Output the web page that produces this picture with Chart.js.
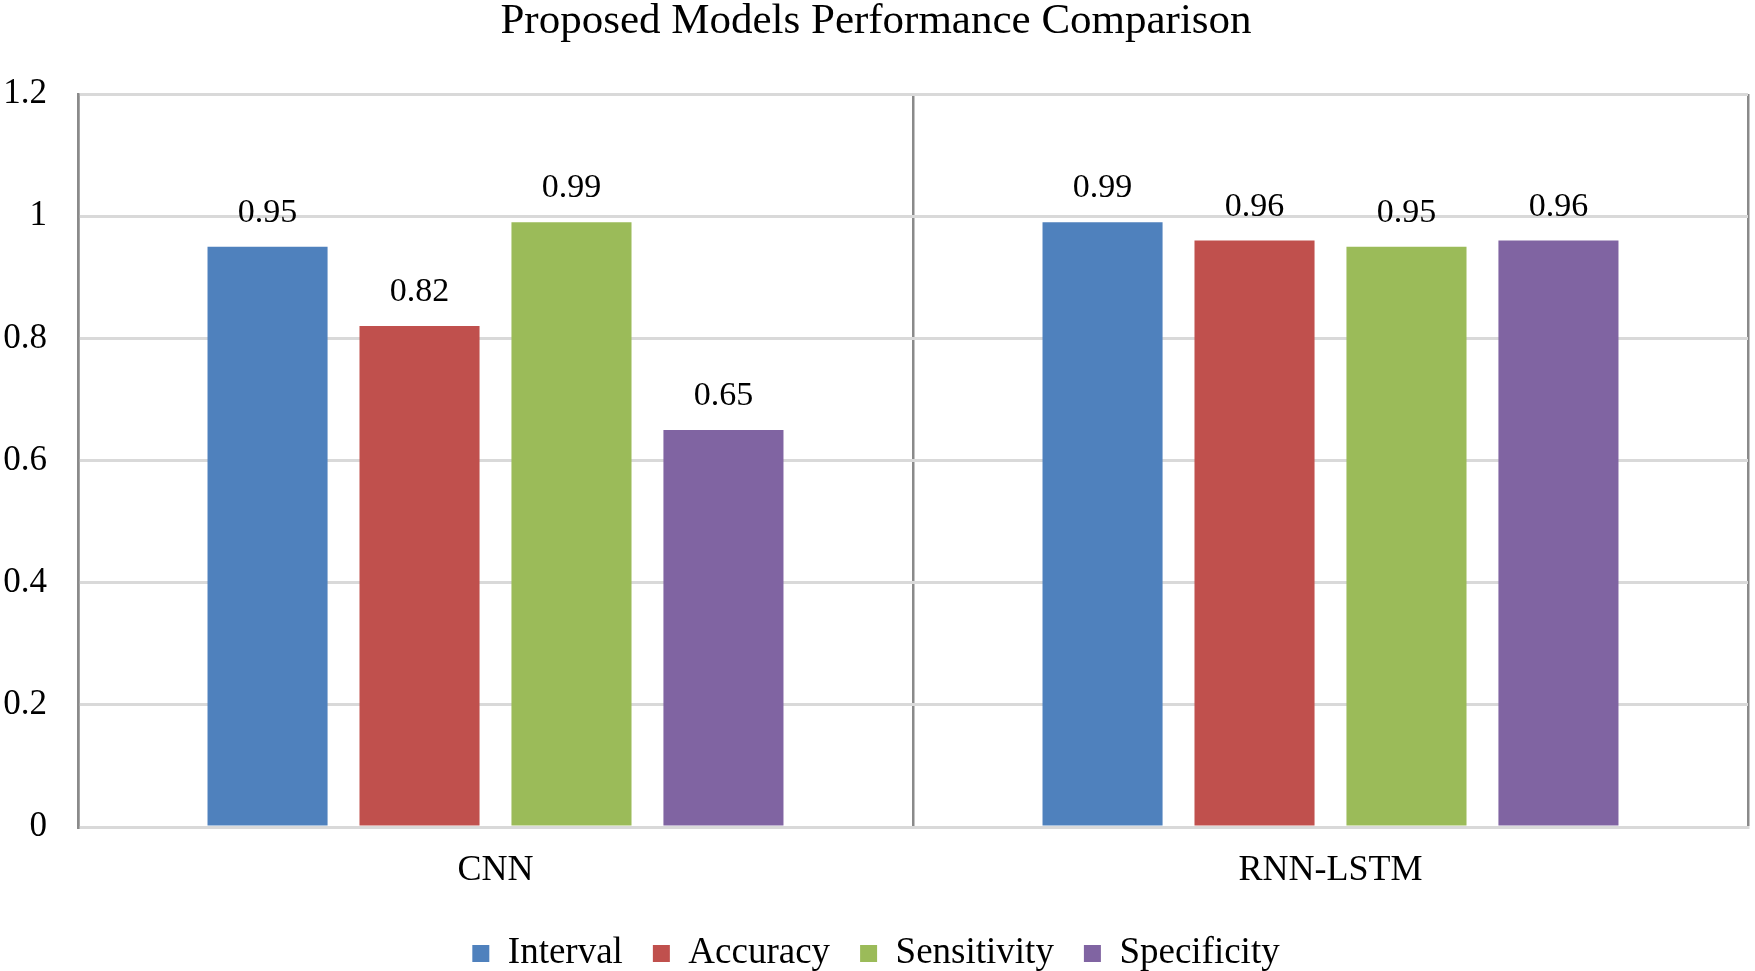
<!DOCTYPE html>
<html>
<head>
<meta charset="utf-8">
<title>Proposed Models Performance Comparison</title>
<script src="https://cdn.jsdelivr.net/npm/chart.js@4.4.0/dist/chart.umd.min.js"></script>
<style>
    html, body { margin: 0; padding: 0; background: #ffffff; }
    #chart { display: block; }
</style>
</head>
<body>
<canvas id="chart" width="1755" height="971"></canvas>
<script>
// Données
const models = ['CNN', 'RNN-LSTM'];
const seriesNames = ['Interval', 'Accuracy', 'Sensitivity', 'Specificity'];
const intervalValues = [0.95, 0.99];
const accuracyValues = [0.82, 0.96];
const sensitivityValues = [0.99, 0.95];
const specificityValues = [0.65, 0.96];
const seriesColors = ['#4F81BD', '#C0504D', '#9BBB59', '#8064A2'];

const FONT = '"Liberation Serif", "Times New Roman", serif';

// Étiquettes de valeur au-dessus des barres
const valueLabels = {
    id: 'valueLabels',
    afterDatasetsDraw(chart) {
        const ctx = chart.ctx;
        ctx.save();
        ctx.font = '34px ' + FONT;
        ctx.fillStyle = '#000000';
        ctx.textAlign = 'center';
        ctx.textBaseline = 'alphabetic';
        chart.data.datasets.forEach((ds, i) => {
            const meta = chart.getDatasetMeta(i);
            meta.data.forEach((bar, j) => {
                ctx.fillText(String(ds.data[j]), bar.x, bar.y - 25);
            });
        });
        ctx.restore();
    }
};

const allValues = [intervalValues, accuracyValues, sensitivityValues, specificityValues];

const data = {
    labels: models,
    datasets: seriesNames.map((name, i) => ({
        label: name,
        data: allValues[i],
        backgroundColor: seriesColors[i],
        borderWidth: 0,
        categoryPercentage: 0.728,
        barPercentage: 0.79
    }))
};

const chart = new Chart(document.getElementById('chart'), {
    type: 'bar',
    data,
    plugins: [valueLabels],
    options: {
        responsive: false,
        devicePixelRatio: 1,
        animation: false,
        layout: { padding: { left: 4, right: 7, top: 0, bottom: -11 } },
        plugins: {
            title: {
                display: true,
                text: 'Proposed Models Performance Comparison',
                color: '#000000',
                font: { family: FONT, size: 43, weight: 'normal', lineHeight: 1.0 },
                padding: { top: 0, bottom: 51 }
            },
            legend: {
                position: 'bottom',
                labels: {
                    color: '#000000',
                    font: { family: FONT, size: 37 },
                    boxWidth: 17,
                    boxHeight: 17,
                    padding: 30
                }
            },
            tooltip: { enabled: false }
        },
        scales: {
            x: {
                grid: {
                    color: '#8a8a8a',
                    lineWidth: 2.5,
                    drawTicks: false,
                    offset: true
                },
                border: { color: '#d9d9d9', width: 3 },
                ticks: {
                    color: '#000000',
                    font: { family: FONT, size: 36 },
                    padding: 22
                },
                afterFit: (scale) => { scale.height = 78; }
            },
            y: {
                min: 0,
                max: 1.2,
                grid: {
                    color: '#d9d9d9',
                    lineWidth: 3,
                    drawTicks: false
                },
                border: { color: '#8a8a8a', width: 2.5 },
                ticks: {
                    stepSize: 0.2,
                    color: '#000000',
                    font: { family: FONT, size: 35 },
                    padding: 31,
                    callback: (value) => String(parseFloat(value.toFixed(1)))
                },
                afterFit: (scale) => { scale.width = 74; }
            }
        }
    }
});
</script>
</body>
</html>
